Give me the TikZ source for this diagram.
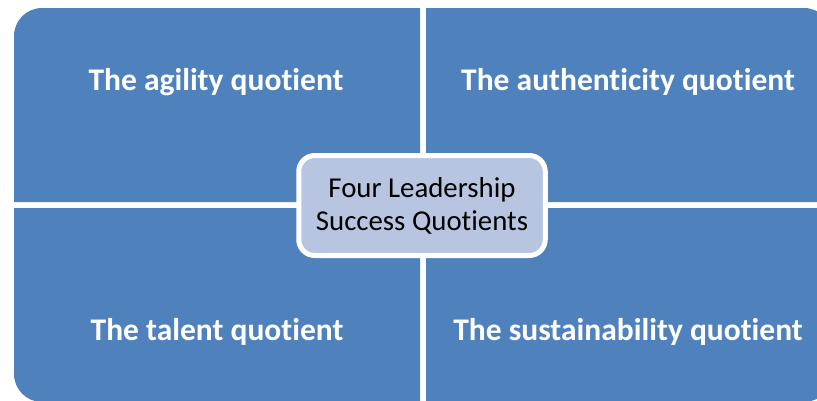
\documentclass[tikz,border=0pt]{standalone}
\usepackage{fontspec}
\setmainfont{Carlito}[Ligatures=CommonOff]
\definecolor{quadblue}{RGB}{79,129,189}
\definecolor{hubfill}{RGB}{183,197,224}
\begin{document}
\begin{tikzpicture}[x=1pt,y=-1pt,
  quad/.style={fill=quadblue},
  quadtext/.style={text=white,font=\fontsize{31.5}{36}\selectfont\bfseries,anchor=base,inner sep=0pt},
  hubbox/.style={draw=white,line width=5pt,fill=hubfill,rounded corners=16pt,
    minimum width=246.5pt,minimum height=100pt,inner sep=0pt,align=center,
    font=\fontsize{28.8}{33}\selectfont,text=black}]
\fill[white] (0,0) rectangle (817,400);
\useasboundingbox (0,0) rectangle (817,400);
\clip (0,0) rectangle (817,400);
% quadrants
\fill[quad] (420,202) -- (14,202) [rounded corners=28pt] -- (14,8) [sharp corners] -- (420,8) -- cycle;
\fill[quad] (426,202) -- (426,8) [rounded corners=28pt] -- (832,8) [sharp corners] -- (832,202) -- cycle;
\fill[quad] (420,208) -- (14,208) [rounded corners=28pt] -- (14,402) [sharp corners] -- (420,402) -- cycle;
\fill[quad] (426,208) -- (426,402) [rounded corners=28pt] -- (832,402) [sharp corners] -- (832,208) -- cycle;
% texts
\node[quadtext] (tagility) at (216,90) {The agility quotient};
\node[quadtext] (tauth) at (628,90) {The authenticity quotient};
\node[quadtext] (ttalent) at (217,340) {The talent quotient};
\node[quadtext] (tsust) at (628,340) {The sustainability quotient};
% hub
\node[hubbox] (hub) at (422,205.5) {Four Leadership\\Success Quotients};
\end{tikzpicture}
\end{document}
